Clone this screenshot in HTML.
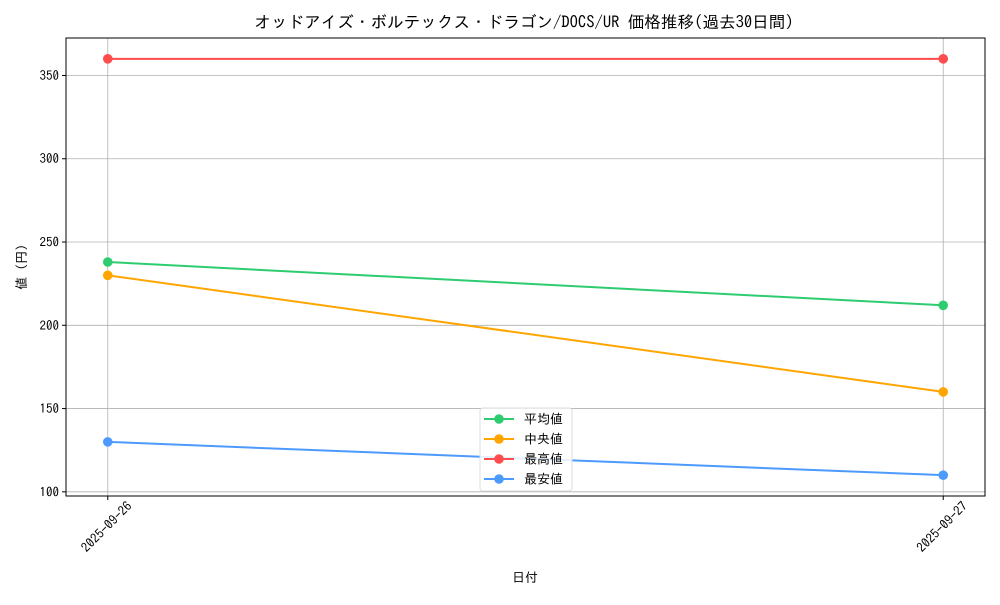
<!DOCTYPE html>
<html><head><meta charset="utf-8"><style>
body{margin:0;background:#fff;}
svg text{font-family:"IPAGothic","Noto Sans CJK JP","Liberation Sans",sans-serif;fill:#000;}
</style></head><body>
<svg id="chart" width="1000" height="600" xmlns="http://www.w3.org/2000/svg">
<rect width="1000" height="600" fill="#fff"/>
<text x="524" y="28" text-anchor="middle" font-size="16.6">オッドアイズ・ボルテックス・ドラゴン/DOCS/UR 価格推移(過去30日間)</text>
<g id="grid"></g><g id="series"></g><g id="axes"></g>
<text x="525" y="582" text-anchor="middle" font-size="13">日付</text>
<text transform="translate(26,267) rotate(-90)" text-anchor="middle" font-size="13">値 (円)</text>
<g id="legend"></g>
</svg>
<script>
const categories=["2025-09-26","2025-09-27"];
const avgValues=[238,212];
const medianValues=[230,160];
const maxValues=[360,360];
const minValues=[130,110];
const yTicks=[100,150,200,250,300,350];
const seriesNames=["平均値","中央値","最高値","最安値"];
const seriesColors=["#2ecc71","#ffa500","#ff4d4d","#4d9aff"];
const L=66,R=985,T=38,B=496,yMin=97.5,yMax=372.5;
const xS=i=>L+(i+0.05)/1.1*(R-L);
const yS=v=>B-(v-yMin)/(yMax-yMin)*(B-T);
const NS="http://www.w3.org/2000/svg";
function mk(p,t,a){const e=document.createElementNS(NS,t);for(const k in a)e.setAttribute(k,a[k]);p.appendChild(e);return e;}
const grid=document.getElementById('grid'),axes=document.getElementById('axes'),ser=document.getElementById('series'),leg=document.getElementById('legend');
yTicks.forEach(v=>{const y=yS(v);
const g=mk(grid,'line',{x1:L,x2:R,y1:y,y2:y,stroke:'#b0b0b0','stroke-width':0.8});


mk(axes,'line',{x1:L-4,x2:L,y1:y,y2:y,stroke:'#000'});
const t=mk(axes,'text',{x:L-7,y:y+4.5,'text-anchor':'end','font-size':13});t.textContent=v;


});
categories.forEach((c,i)=>{const x=xS(i);
const g=mk(grid,'line',{x1:x,x2:x,y1:T,y2:B,stroke:'#b0b0b0','stroke-width':0.8});


mk(axes,'line',{x1:x,x2:x,y1:B,y2:B+4,stroke:'#000'});
const t=mk(axes,'text',{transform:`translate(${x+25},${B+11}) rotate(-45)`,'text-anchor':'end','font-size':13});t.textContent=c;


});
const fr=mk(axes,'rect',{x:L,y:T,width:R-L,height:B-T,fill:'none',stroke:'#000','stroke-width':1});


const data=[avgValues,medianValues,maxValues,minValues];
data.forEach((vals,s)=>{
const g=mk(ser,'g',{});


mk(g,'polyline',{points:vals.map((v,i)=>xS(i)+','+yS(v)).join(' '),fill:'none',stroke:seriesColors[s],'stroke-width':2});
vals.forEach((v,i)=>{const c=mk(g,'circle',{cx:xS(i),cy:yS(v),r:4.8,fill:seriesColors[s]});

});
});
const lb=mk(leg,'rect',{x:480,y:408,width:92,height:83,rx:3,fill:'#fff','fill-opacity':0.85,stroke:'#ddd'});


seriesNames.forEach((n,s)=>{const y=419+s*20;
const g=mk(leg,'g',{});


mk(g,'line',{x1:484,x2:514,y1:y,y2:y,stroke:seriesColors[s],'stroke-width':2});
mk(g,'circle',{cx:499,cy:y,r:4.8,fill:seriesColors[s]});
const t=mk(g,'text',{x:524,y:y+4.5,'font-size':13});t.textContent=n;});
</script>
</body></html>
